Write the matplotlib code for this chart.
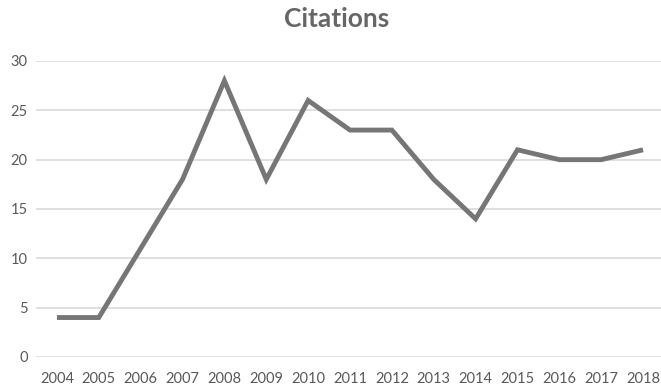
# Citations per year - line chart in the style of an Excel chart
import matplotlib
matplotlib.use("Agg")
import matplotlib.pyplot as plt

years = ["2004", "2005", "2006", "2007", "2008", "2009", "2010", "2011",
         "2012", "2013", "2014", "2015", "2016", "2017", "2018"]
citations = [4, 4, 11, 18, 28, 18, 26, 23, 23, 18, 14, 21, 20, 20, 21]
y_ticks = [0, 5, 10, 15, 20, 25, 30]

TXT = "#595959"
LINE = "#767676"
GRID = "#d9d9d9"

plt.rcParams["font.family"] = ["Lato", "DejaVu Sans"]

fig = plt.figure(figsize=(6.61, 3.92), dpi=100)
# axes runs a little past the right edge, like the cropped original
ax = fig.add_axes([36 / 661, 35 / 392, 628 / 661, 296 / 392])

x = list(range(len(years)))
ax.plot(x, citations, color=LINE, linewidth=3.5, solid_joinstyle="miter",
        solid_capstyle="butt", zorder=3)

ax.set_xlim(-0.5, len(years) - 0.5)
ax.set_ylim(0, 30)
ax.set_yticks(y_ticks)
ax.set_xticks(x)
ax.set_xticklabels(years)

ax.grid(axis="y", color=GRID, linewidth=1.2)
ax.set_axisbelow(True)
for s in ax.spines.values():
    s.set_visible(False)
ax.tick_params(length=0, labelsize=10.5, labelcolor=TXT)
ax.tick_params(axis="x", pad=11)
ax.tick_params(axis="y", pad=6)

fig.text(337 / 661, 0.952, "Citations", ha="center", va="center",
         fontsize=19, fontweight="bold", color="#666666")

fig.savefig("out.png", dpi=100)
